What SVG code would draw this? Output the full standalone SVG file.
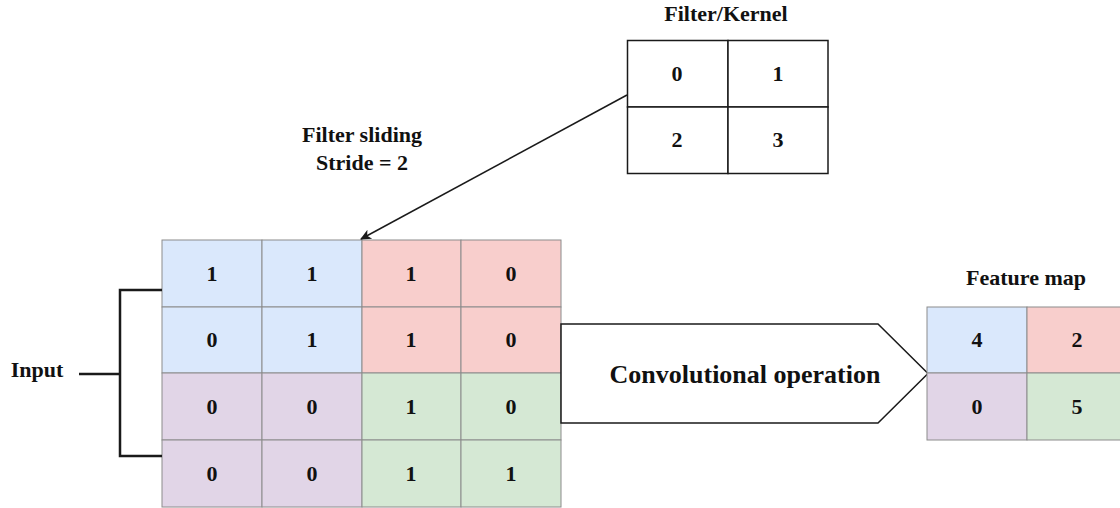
<svg xmlns="http://www.w3.org/2000/svg" width="1120" height="508" viewBox="0 0 1120 508">
  <style>
    text { font-family: "Liberation Serif", "Times New Roman", serif; font-weight: bold; fill: #111; text-anchor: middle; }
    .lbl { font-size: 22px; }
    .big { font-size: 26px; }
    .num { font-size: 22px; }
    .cell { stroke: #8c8c8c; stroke-width: 1; }
    .blue { fill: #dae8fc; }
    .red { fill: #f8cecc; }
    .purple { fill: #e1d5e7; }
    .green { fill: #d5e8d4; }
    .kcell { fill: #ffffff; stroke: #1a1a1a; stroke-width: 1.5; }
    .wire { fill: none; stroke: #1a1a1a; }
  </style>
  <defs>
    <marker id="arrowhead" markerWidth="12" markerHeight="12" refX="10" refY="6" orient="auto" markerUnits="userSpaceOnUse">
      <path d="M0,1 L11,6 L0,11 L3,6 Z" fill="#1a1a1a"/>
    </marker>
  </defs>
  <rect width="1120" height="508" fill="#ffffff"/>

  <!-- 2x2 kernel -->
  <g id="kernel">
    <text class="lbl" x="726" y="21">Filter/Kernel</text>
    <rect class="kcell" x="627.5" y="40.5" width="100.5" height="66.5"/>
    <rect class="kcell" x="728" y="40.5" width="100" height="66.5"/>
    <rect class="kcell" x="627.5" y="107" width="100.5" height="66.5"/>
    <rect class="kcell" x="728" y="107" width="100" height="66.5"/>
    <text class="num" x="677" y="81">0</text>
    <text class="num" x="778" y="81">1</text>
    <text class="num" x="677" y="147">2</text>
    <text class="num" x="778" y="147">3</text>
  </g>

  <!-- stride annotation -->
  <g id="stride-label">
    <text class="lbl" x="362" y="142">Filter sliding</text>
    <text class="lbl" x="362" y="170">Stride = 2</text>
  </g>

  <!-- 4x4 input matrix -->
  <g id="input-grid">
    <rect class="cell blue" x="162" y="240" width="100" height="67"/>
    <rect class="cell blue" x="262" y="240" width="100" height="67"/>
    <rect class="cell red" x="362" y="240" width="99" height="67"/>
    <rect class="cell red" x="461" y="240" width="100" height="67"/>
    <rect class="cell blue" x="162" y="307" width="100" height="66"/>
    <rect class="cell blue" x="262" y="307" width="100" height="66"/>
    <rect class="cell red" x="362" y="307" width="99" height="66"/>
    <rect class="cell red" x="461" y="307" width="100" height="66"/>
    <rect class="cell purple" x="162" y="373" width="100" height="67"/>
    <rect class="cell purple" x="262" y="373" width="100" height="67"/>
    <rect class="cell green" x="362" y="373" width="99" height="67"/>
    <rect class="cell green" x="461" y="373" width="100" height="67"/>
    <rect class="cell purple" x="162" y="440" width="100" height="67"/>
    <rect class="cell purple" x="262" y="440" width="100" height="67"/>
    <rect class="cell green" x="362" y="440" width="99" height="67"/>
    <rect class="cell green" x="461" y="440" width="100" height="67"/>

    <text class="num" x="212" y="281">1</text>
    <text class="num" x="312" y="281">1</text>
    <text class="num" x="411" y="281">1</text>
    <text class="num" x="511" y="281">0</text>
    <text class="num" x="212" y="347">0</text>
    <text class="num" x="312" y="347">1</text>
    <text class="num" x="411" y="347">1</text>
    <text class="num" x="511" y="347">0</text>
    <text class="num" x="212" y="414">0</text>
    <text class="num" x="312" y="414">0</text>
    <text class="num" x="411" y="414">1</text>
    <text class="num" x="511" y="414">0</text>
    <text class="num" x="212" y="481">0</text>
    <text class="num" x="312" y="481">0</text>
    <text class="num" x="411" y="481">1</text>
    <text class="num" x="511" y="481">1</text>
  </g>

  <!-- input label -->
  <g id="input-label">
    <text class="lbl" x="37" y="377">Input</text>
  </g>

  <!-- operation block arrow -->
  <g id="convolution">
    <polygon points="561,324 878,324 928,373.5 878,423 561,423" fill="#ffffff" stroke="#1a1a1a" stroke-width="1.5"/>
    <text class="big" x="745" y="383">Convolutional operation</text>
  </g>

  <!-- 2x2 output -->
  <g id="feature-map">
    <text class="lbl" x="1026" y="285">Feature map</text>
    <rect class="cell blue" x="927" y="307" width="100" height="66"/>
    <rect class="cell red" x="1027" y="307" width="100" height="66"/>
    <rect class="cell purple" x="927" y="373" width="100" height="67"/>
    <rect class="cell green" x="1027" y="373" width="100" height="67"/>
    <text class="num" x="977" y="347">4</text>
    <text class="num" x="1077" y="347">2</text>
    <text class="num" x="977" y="414">0</text>
    <text class="num" x="1077" y="414">5</text>
  </g>

  <!-- connectors -->
  <g id="connectors">
    <line class="wire" x1="627" y1="95" x2="361" y2="239" stroke-width="1.5" marker-end="url(#arrowhead)"/>
    <path class="wire" d="M162,290 H120 V456 H162" stroke-width="2.5"/>
    <path class="wire" d="M79,374 H120" stroke-width="2.5"/>
  </g>
</svg>
